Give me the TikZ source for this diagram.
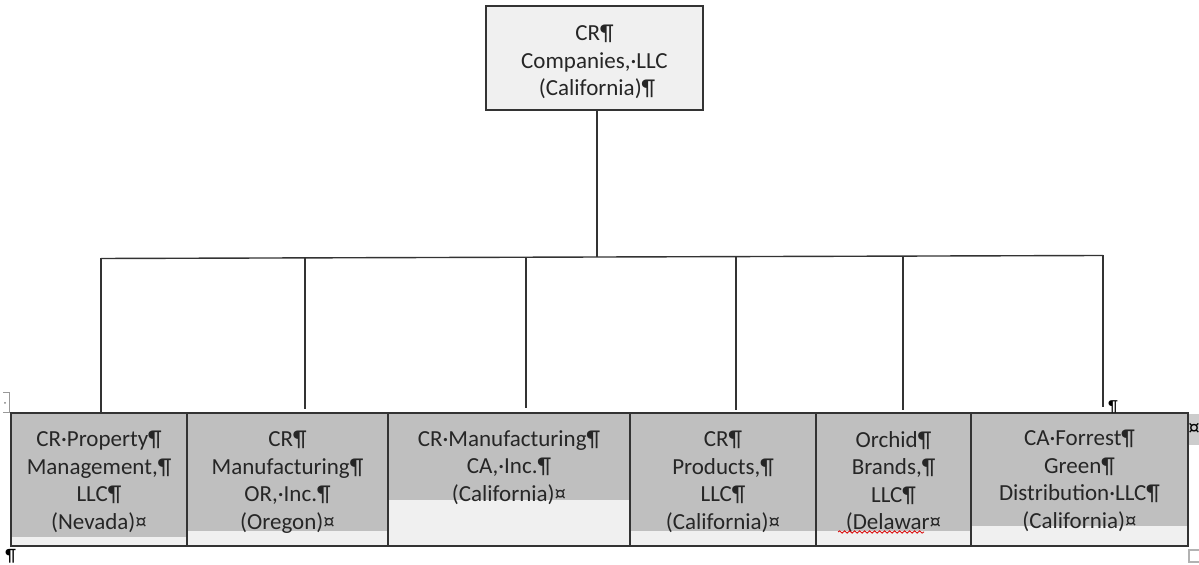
\documentclass[tikz,border=0pt]{standalone}
\usepackage{fontspec}
\setmainfont{Carlito}
\usetikzlibrary{decorations.pathmorphing}
\definecolor{cellgray}{HTML}{BFBFBF}
\definecolor{paleGray}{HTML}{F0F0F0}
\definecolor{lineGray}{HTML}{333333}
\begin{document}
\begin{tikzpicture}[x=0.5pt, y=-0.5pt, font=\fontsize{11.5}{13.75}\selectfont]
	\tikzstyle{topStyle} = [draw = lineGray, line width = 0.75pt, fill = paleGray, minimum width = 108.5pt, minimum height = 52pt, inner sep = 0pt]
	\tikzstyle{cellStyle} = [draw = lineGray, line width = 0.75pt, fill = paleGray, minimum height = 66.5pt, inner sep = 0pt]
	\tikzstyle{labelStyle} = [anchor = north, inner sep = 0pt, align = center, text = black!85]
	\tikzstyle{EdgeStyle} = [draw = lineGray, line width = 0.7pt]
	\useasboundingbox (0,0) rectangle (1199,565);
	% parent
	\node[topStyle] (v0) at (594.5,58) {};
	\node[labelStyle] (t0) at (594.5,25) {CR¶\\Companies,·LLC\\\ (California)¶};
	% subsidiaries
	\node[cellStyle, minimum width = 88pt]    (v1) at (99,479.5) {};
	\node[cellStyle, minimum width = 100.5pt] (v2) at (287.5,479.5) {};
	\node[cellStyle, minimum width = 121pt]   (v3) at (509,479.5) {};
	\node[cellStyle, minimum width = 93pt]    (v4) at (723,479.5) {};
	\node[cellStyle, minimum width = 77.5pt]  (v5) at (893.5,479.5) {};
	\node[cellStyle, minimum width = 108.5pt] (v6) at (1079.5,479.5) {};
	\fill[cellgray] (12,414) rectangle (186,537);
	\fill[cellgray] (188,414) rectangle (387,531);
	\fill[cellgray] (389,414) rectangle (629,500);
	\fill[cellgray] (631,414) rectangle (815,531);
	\fill[cellgray] (817,414) rectangle (970,531);
	\fill[cellgray] (972,414) rectangle (1187,526);
	\draw[lineGray, line width = 0.75pt] (11,413) rectangle (1188,546);
	\foreach \xd in {187,388,630,816,971}
		\draw[lineGray, line width = 0.75pt] (\xd,413) -- (\xd,546);
	\node[labelStyle] (t1) at (99,431)    {CR·Property¶\\Management,¶\\LLC¶\\(Nevada)¤};
	\node[labelStyle] (t2) at (287.5,431) {CR¶\\Manufacturing¶\\OR,·Inc.¶\\(Oregon)¤};
	\node[labelStyle] (t3) at (509,430)   {CR·Manufacturing¶\\CA,·Inc.¶\\(California)¤};
	\node[labelStyle] (t4) at (723,431)   {CR¶\\Products,¶\\LLC¶\\(California)¤};
	\node[labelStyle] (t5) at (893.5,431) {Orchid¶\\Brands,¶\\LLC¶\\(Delawar¤};
	\node[labelStyle] (t6) at (1079.5,430) {CA·Forrest¶\\Green¶\\Distribution·LLC¶\\(California)¤};
	\draw[red!85!black, line width = 0.4pt, decorate, decoration = {snake, amplitude = 0.6pt, segment length = 2.5pt}] (838,532) -- (924,532);
	% bus
	\coordinate (b0) at (597,257.0);
	\coordinate (b1) at (101,258.5);
	\coordinate (b2) at (305,257.9);
	\coordinate (b3) at (526,257.2);
	\coordinate (b4) at (736,256.6);
	\coordinate (b5) at (903,256.1);
	\coordinate (b6) at (1103,255.5);
	\coordinate (e1) at (101,412);
	\coordinate (e2) at (305,409);
	\coordinate (e3) at (526,408);
	\coordinate (e4) at (736,410);
	\coordinate (e5) at (903,410);
	\coordinate (e6) at (1103,407);
	\draw[EdgeStyle] (v0.south -| b0) -- (b0);
	\draw[EdgeStyle] (b1) -- (b6);
	\foreach \i in {1,...,6}
		\draw[EdgeStyle] (b\i) -- (e\i);
	% editor marks
	\node[anchor = south, inner sep = 0pt] (m1) at (1113,413) {\fontsize{8}{8}\selectfont ¶};
	\fill[black!20] (1189,414) rectangle (1199,445);
	\node[inner sep = 0pt] (m2) at (1194,429) {¤};
	\node[anchor = south west, inner sep = 0pt] (m3) at (5,564) {\fontsize{9}{9}\selectfont ¶};
	\draw[black!40, line width = 0.5pt] (3,393) -- (9,393) -- (9,413) -- (3,413);
	\fill[black!50] (5,403) circle (1);
	\draw[black!30, line width = 0.6pt] (1199,550) -- (1189,550) -- (1189,562) -- (1199,562);
\end{tikzpicture}
\end{document}
